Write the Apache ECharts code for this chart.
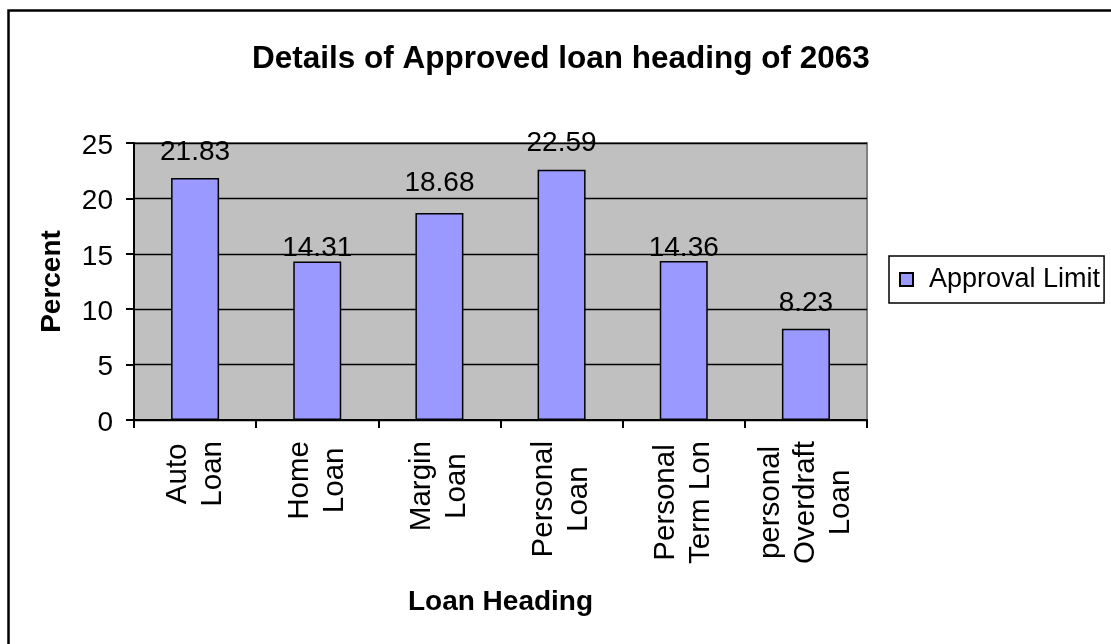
<!DOCTYPE html>
<html>
<head>
<meta charset="utf-8">
<title>Details of Approved loan heading of 2063</title>
<script src="https://cdn.jsdelivr.net/npm/echarts@6/dist/echarts.min.js"></script>
<style>
  html, body { margin: 0; padding: 0; background: #ffffff; }
  #chart { width: 1111px; height: 644px; }
</style>
</head>
<body>
<div id="chart"></div>
<script>
// Loan categories (line breaks as shown under the axis)
const categories = [
  'Auto\nLoan',
  'Home\nLoan',
  'Margin\nLoan',
  'Personal\nLoan',
  'Personal\nTerm Lon',
  'personal\nOverdraft\nLoan'
];
// Approval limit per category, in percent
const approvalLimit = [21.83, 14.31, 18.68, 22.59, 14.36, 8.23];
// Value axis range and step
const yMin = 0;
const yMax = 25;
const yStep = 5;
// Gap between each bar top and its value label, in px
const labelGaps = [12, -1, 16, 12, -1, 12];

const FONT = '"Liberation Sans", Arial, Helvetica, sans-serif';
const chart = echarts.init(document.getElementById('chart'), null, { renderer: 'canvas' });

const barData = approvalLimit.map(function (v, i) {
  return { value: v, label: { distance: labelGaps[i] } };
});

chart.setOption({
  backgroundColor: '#ffffff',
  animation: false,
  textStyle: { fontFamily: FONT, color: '#000' },
  title: {
    text: 'Details of Approved loan heading of 2063',
    left: 252,
    top: 43,
    padding: 0,
    textStyle: { fontFamily: FONT, fontSize: 31.5, fontWeight: 'bold', color: '#000' }
  },
  legend: {
    left: 889,
    top: 256,
    orient: 'vertical',
    padding: [10, 4, 10, 10],
    borderColor: '#000',
    borderWidth: 1.5,
    itemWidth: 13,
    itemHeight: 13,
    icon: 'rect',
    textStyle: { fontFamily: FONT, fontSize: 27, color: '#000', padding: [0, 0, 0, 11] },
    data: ['Approval Limit']
  },
  grid: {
    left: 134,
    right: 244,
    top: 143,
    bottom: 224,
    show: true,
    backgroundColor: '#C0C0C0',
    borderColor: '#808080',
    borderWidth: 2
  },
  xAxis: {
    type: 'category',
    data: categories,
    name: 'Loan Heading',
    nameLocation: 'middle',
    nameGap: 168,
    nameTextStyle: { fontFamily: FONT, fontSize: 28, fontWeight: 'bold', color: '#000' },
    axisLine: { show: true, lineStyle: { color: '#000', width: 2 } },
    axisTick: { show: true, length: 8, alignWithLabel: false, lineStyle: { color: '#000', width: 2 } },
    axisLabel: {
      rotate: 90,
      margin: 21,
      interval: 0,
      color: '#000',
      fontFamily: FONT,
      fontSize: 29.5,
      lineHeight: 35,
      formatter: function (v) {
        return v.split('\n').map(function (s) { return '{c|' + s + '}'; }).join('\n');
      },
      rich: {
        c: { align: 'center', fontFamily: FONT, fontSize: 29.5, lineHeight: 35, color: '#000' }
      }
    },
    splitLine: { show: false }
  },
  yAxis: {
    type: 'value',
    min: yMin,
    max: yMax,
    interval: yStep,
    name: 'Percent',
    nameLocation: 'middle',
    nameRotate: 90,
    nameGap: 68,
    nameTextStyle: { fontFamily: FONT, fontSize: 28, fontWeight: 'bold', color: '#000' },
    axisLine: { show: true, lineStyle: { color: '#000', width: 2 } },
    axisTick: { show: true, length: 8, lineStyle: { color: '#000', width: 2 } },
    axisLabel: {
      margin: 21,
      color: '#000',
      fontFamily: FONT,
      fontSize: 28,
      formatter: function (v) { return '{v|' + v + '}'; },
      rich: {
        v: { fontFamily: FONT, fontSize: 28, color: '#000', padding: [6, 0, 0, 0] }
      }
    },
    splitLine: { show: true, lineStyle: { color: '#000', width: 1.3 } }
  },
  series: [{
    name: 'Approval Limit',
    type: 'bar',
    data: barData,
    barWidth: 48,
    itemStyle: { color: '#9999FF', borderColor: '#000', borderWidth: 1.5 },
    label: {
      show: true,
      position: 'top',
      distance: 12,
      color: '#000',
      fontFamily: FONT,
      fontSize: 28,
      formatter: function (p) { return p.value.toFixed(2); }
    }
  }],
  graphic: [{
    type: 'rect',
    silent: true,
    z: 100,
    shape: { x: 8.5, y: 10.5, width: 1120, height: 660 },
    style: { fill: 'none', stroke: '#000', lineWidth: 2.5 }
  }]
});
</script>
</body>
</html>
